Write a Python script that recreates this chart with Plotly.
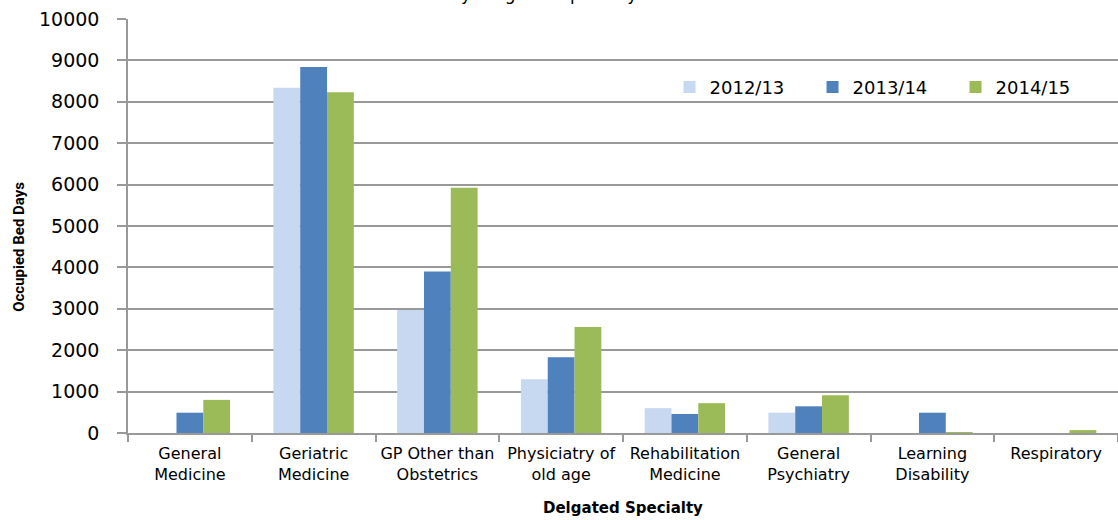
import plotly.graph_objects as go

categories = ["General<br>Medicine", "Geriatric<br>Medicine", "GP Other than<br>Obstetrics",
              "Physiciatry of<br>old age", "Rehabilitation<br>Medicine", "General<br>Psychiatry",
              "Learning<br>Disability", "Respiratory"]
series_names = ["2012/13", "2013/14", "2014/15"]
v_2012 = [0, 8340, 2970, 1300, 600, 490, 0, 0]
v_2013 = [490, 8840, 3900, 1830, 460, 645, 490, 0]
v_2014 = [800, 8230, 5925, 2560, 720, 910, 10, 70]
colors = ["#C6D9F1", "#4F81BD", "#9BBB59"]

fig = go.Figure()
for name, vals, c in zip(series_names, [v_2012, v_2013, v_2014], colors):
    fig.add_trace(go.Bar(x=categories, y=vals, name=name, marker_color=c,
                         marker_line_width=0))

grid = "#999999"
fig.update_layout(
    width=1118, height=520,
    margin=dict(l=128, r=0, t=19, b=87, autoexpand=False),
    paper_bgcolor="white", plot_bgcolor="white",
    barmode="group", bargap=0.35, bargroupgap=0,
    font=dict(family="DejaVu Sans", color="#000000"),
    title=dict(text="by Delgated Specialty", font=dict(family="DejaVu Sans", size=17, color="#000"),
               xref="paper", x=0.42, xanchor="center", yref="container", y=0.9995, yanchor="bottom"),
    legend=dict(orientation="h", x=0.547, y=0.835, xanchor="left", yanchor="middle",
                font=dict(size=18, family="DejaVu Sans"), bgcolor="rgba(0,0,0,0)",
                entrywidth=98, entrywidthmode="pixels", itemwidth=30),
    showlegend=True,
)
fig.update_yaxes(range=[0, 10000], dtick=1000, tickformat="d", showgrid=True, gridcolor=grid,
                 gridwidth=1.5, showline=True, linecolor=grid, linewidth=1.5, ticks="outside",
                 ticklen=9, tickcolor=grid, tickwidth=1.5, ticklabelstandoff=14,
                 tickfont=dict(size=19, family="DejaVu Sans"), zeroline=False)
fig.update_xaxes(showline=True, linecolor=grid, linewidth=1.5, ticks="outside", tickson="boundaries",
                 ticklen=7, tickcolor=grid, tickwidth=1.5, ticklabelstandoff=5,
                 tickfont=dict(size=16, family="DejaVu Sans"))
fig.add_annotation(text="<b>Occupied Bed Days</b>", xref="paper", yref="paper",
                   x=-0.11, y=0.45, xanchor="center", yanchor="middle", textangle=-90,
                   showarrow=False, font=dict(size=15, family="Roboto"))
fig.add_annotation(text="<b>Delgated Specialty</b>", xref="paper", yref="paper",
                   x=0.5, y=-0.18, xanchor="center", yanchor="middle",
                   showarrow=False, font=dict(size=15, family="DejaVu Sans"))
fig.write_html("out.html", config={"displayModeBar": False},
               post_script="document.body.style.margin='0';")
